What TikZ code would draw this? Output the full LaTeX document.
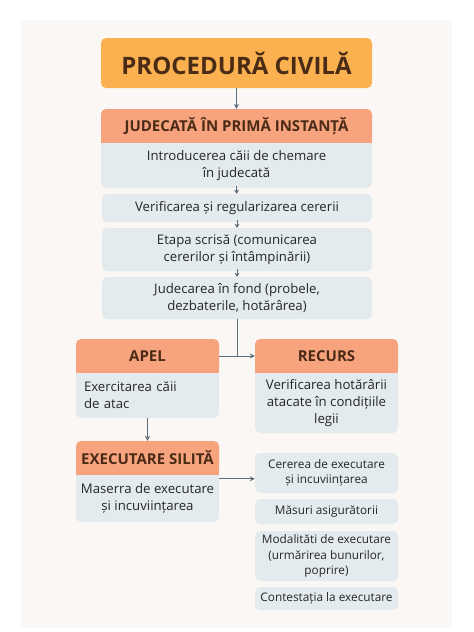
\documentclass[tikz,border=0pt]{standalone}
\usepackage{fontspec}
\setmainfont{Open Sans}
\usetikzlibrary{arrows.meta}
\definecolor{panel}{HTML}{FAF7F4}
\definecolor{titlec}{HTML}{FBB14F}
\definecolor{hdrc}{HTML}{F7A37E}
\definecolor{bodyc}{HTML}{E3EBEE}
\definecolor{ink}{HTML}{4A2B16}
\definecolor{txt}{HTML}{26262A}
\definecolor{arr}{HTML}{5B6E7A}
\tikzset{>={Stealth[length=5pt,width=5pt]}}
\tikzset{
  titlebox/.style={fill=titlec, rounded corners=5pt, minimum width=271pt, minimum height=50pt, text=ink, font=\fontsize{24}{28}\selectfont\bfseries},
  hdrbox/.style={fill=hdrc, rounded corners=5pt, minimum height=34pt, text=ink, font=\fontsize{15}{18}\selectfont\bfseries},
  bodybox/.style={fill=bodyc, rounded corners=5pt, align=center, text=txt, font=\fontsize{13.2}{17}\selectfont},
  sidebox/.style={bodybox, minimum width=143pt, font=\fontsize{11.8}{15.5}\selectfont},
  conn/.style={draw=arr, line width=1pt, ->},
  tiny/.style={draw=arr, line width=0.9pt, -{Stealth[length=4pt,width=5pt]}}
}

\begin{document}
\begin{tikzpicture}[x=1pt,y=-1pt]
    \useasboundingbox (0,0) rectangle (474,632);
    \fill[panel] (21,20) rectangle (452,628);
    % title and first instance
    \node[titlebox] (title) at (236.5,63) {PROCEDURĂ CIVILĂ};
    \node[hdrbox, minimum width=271pt] (jud) at (236.5,126) {JUDECATĂ ÎN PRIMĂ INSTANȚĂ};
    \node[bodybox, minimum width=271pt, minimum height=45pt] (b1) at (236.5,165.5) {Introducerea căii de chemare\\în judecată};
    \node[bodybox, minimum width=270pt, minimum height=28pt] (b2) at (237,208) {Verificarea și regularizarea cererii};
    \node[bodybox, minimum width=270pt, minimum height=43pt] (b3) at (237,249.5) {Etapa scrisă (comunicarea\\cererilor și întâmpinării)};
    \node[bodybox, minimum width=270pt, minimum height=42pt] (b4) at (237,298) {Judecarea în fond (probele,\\dezbaterile, hotărârea)};
    % appeals
    \node[hdrbox, minimum width=143pt] (apel) at (147.5,356) {APEL};
    \node[bodybox, minimum width=143pt, minimum height=45pt, text width=127pt, align=left, inner sep=0pt] (apelb) at (147.5,395.5) {Exercitarea căii\\de atac};
    \node[hdrbox, minimum width=143pt] (recurs) at (326.5,356) {RECURS};
    \node[bodybox, minimum width=143pt, minimum height=60pt] (recursb) at (326.5,403) {Verificarea hotărârii\\atacate în condițiile\\legii};
    % enforcement
    \node[hdrbox, minimum width=143pt] (exec) at (147.5,458) {EXECUTARE SILITĂ};
    \node[bodybox, minimum width=143pt, minimum height=47pt] (execb) at (147.5,498.5) {Maserra de executare\\și incuviințarea};
    \node[sidebox, minimum height=40pt] (r1) at (326.5,473) {Cererea de executare\\și incuviințarea};
    \node[sidebox, minimum height=25pt] (r2) at (326.5,511.5) {Măsuri asigurătorii};
    \node[sidebox, minimum height=50pt] (r3) at (326.5,556) {Modalităti de executare\\(urmărirea bunurilor,\\poprire)};
    \node[sidebox, minimum height=23pt] (r4) at (326.5,598.5) {Contestația la executare};
    % square the joins between headers and bodies
    \foreach \h/\b in {jud/b1, apel/apelb, recurs/recursb, exec/execb} {
        \fill[hdrc] (\h.south west) rectangle ([yshift=6pt]\h.south east);
        \fill[bodyc] (\b.north west) rectangle ([yshift=-6pt]\b.north east);
    }
    % connectors
    \draw[conn] (title) -- (jud);
    \draw[tiny] ([yshift=2pt]b1.south) -- (b2);
    \draw[tiny] ([yshift=2pt]b2.south) -- (b3);
    \draw[tiny] ([yshift=2pt]b3.south) -- (b4);
    \draw[draw=arr, line width=1pt] (b4.south) -- (b4.south |- apel.east);
    \draw[conn] (apel.east) -- (recurs.west);
    \draw[conn] (apelb.south) -- (exec.north);
    \coordinate (ex) at ([yshift=-4pt]execb.north east);
    \draw[conn] (ex) -- (ex -| r1.west);
\end{tikzpicture}
\end{document}
